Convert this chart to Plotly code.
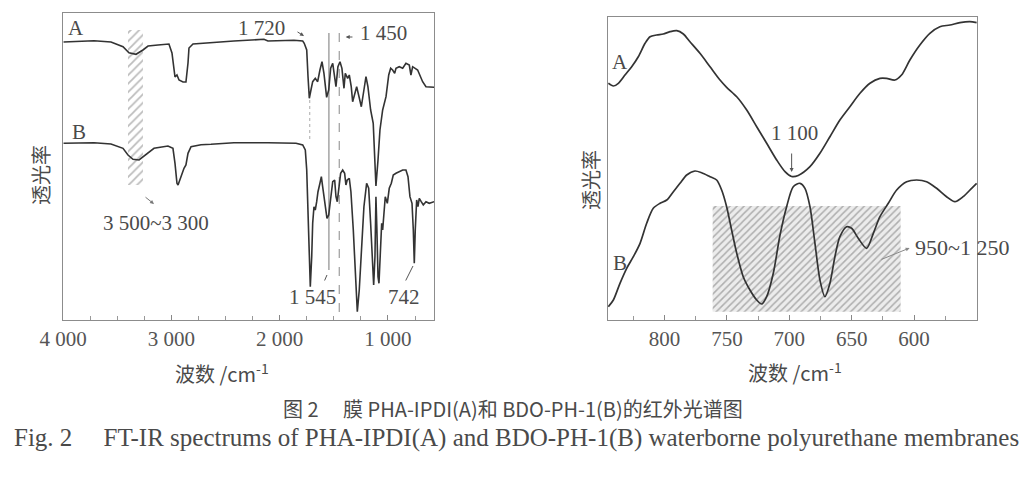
import plotly.graph_objects as go

# ---------------- data (wavenumber cm-1, transmittance a.u.) ----------------
left_A_wn = [3995, 3714, 3557, 3446, 3391, 3326, 3262, 3215, 3123, 3022, 2994, 2975, 2966, 2948,
             2929, 2892, 2865, 2846, 2837, 2800, 2634, 2422, 2145, 2108, 1868, 1787, 1773, 1750,
             1738, 1726, 1711, 1695, 1671, 1649, 1628, 1609, 1591, 1566, 1547, 1529, 1510, 1492,
             1480, 1462, 1443, 1425, 1406, 1394, 1372, 1357, 1339, 1326, 1307, 1289, 1271, 1246,
             1222, 1203, 1185, 1160, 1136, 1124, 1111, 1092, 1074, 1049, 1018, 993, 975, 957, 938,
             926, 896, 864, 834, 803, 788, 772, 726, 680, 649, 573]
left_A_t = [278, 279.3, 278, 273.3, 267.3, 265.7, 270, 274, 275, 276, 267, 250, 243, 245,
            240, 238, 238, 257, 272, 276, 277, 279, 280.7, 279, 279.7, 279, 276.7, 270,
            243.3, 221.7, 230, 238.3, 241.7, 238.3, 250, 258.3, 246.7, 222.7, 230, 251.7, 256.7, 243.3,
            233.3, 253.3, 258.3, 251.7, 231.7, 246.7, 241.7, 245, 233.3, 218.3, 226.7, 233.3, 225, 213.3,
            230, 243.3, 233.3, 210, 196.7, 170, 134, 160, 190, 210, 223.3, 245, 251.7, 250, 246.7,
            251.7, 253.3, 251.7, 256.7, 255, 245, 253.3, 250, 238.3, 233.3, 232.7]

left_B_wn = [3995, 3714, 3557, 3446, 3400, 3354, 3298, 3234, 3160, 3031, 2985, 2966, 2948, 2938,
             2911, 2883, 2865, 2846, 2818, 2726, 2634, 2422, 2108, 1868, 1849, 1787, 1763, 1750,
             1738, 1726, 1717, 1704, 1695, 1683, 1671, 1658, 1646, 1628, 1615, 1603, 1591, 1579,
             1563, 1547, 1529, 1510, 1492, 1480, 1468, 1455, 1437, 1418, 1400, 1388, 1376, 1357,
             1342, 1320, 1302, 1283, 1265, 1246, 1222, 1197, 1178, 1160, 1141, 1132, 1120, 1111,
             1102, 1092, 1083, 1071, 1058, 1049, 1040, 1025, 1006, 988, 969, 951, 926, 896, 864,
             834, 815, 797, 778, 766, 757, 748, 735, 723, 711, 693, 674, 649, 619, 573]
left_B_t = [176.7, 177.3, 176, 171.7, 165, 160.7, 160, 165, 171.7, 174, 171.7, 156.7, 136.7, 135,
            143.3, 151.7, 155, 166.7, 173.3, 175.3, 175.7, 177.3, 177.3, 177.3, 176.7, 175, 170, 150,
            107, 57, 33.3, 63.3, 96.7, 113.3, 110, 118.3, 128.3, 136.7, 143.3, 133.3, 123.3, 110,
            101.7, 105, 123.3, 138.3, 140, 123.3, 118.3, 133.3, 146.7, 150, 146.7, 135, 140, 141.7,
            128.3, 90, 46.7, 8.3, 30, 73.3, 113.3, 136.7, 131.7, 96.7, 50, 35, 63.3, 123.3,
            90, 43.3, 36.7, 70, 96.7, 90, 106.7, 123.3, 116.7, 131.7, 136.7, 145, 146.7, 148.3, 150,
            150, 143.3, 123.3, 116.7, 90, 56.7, 90, 120, 113.3, 121.7, 118.3, 115, 118.3, 116.7, 118.3]

right_A_wn = [845.0, 841.0, 837.0, 831.7, 826.3, 821.0, 815.6, 811.6, 806.3, 801.0, 795.6, 790.2,
              784.9, 779.6, 771.6, 763.5, 755.5, 750.2, 742.1, 734.1, 726.1, 718.1, 710.1, 703.4,
              698.1, 692.8, 683.4, 675.4, 667.4, 659.4, 651.4, 643.3, 635.3, 627.3, 622.0, 615.3,
              610.0, 603.3, 595.3, 587.3, 579.3, 571.2, 563.2, 555.2, 549.8]
right_A_t = [236.7, 234, 236.7, 245, 253.3, 263.3, 276.7, 283.3, 285, 286, 288.3, 289.3,
             286, 278.3, 266.7, 253.3, 240, 232.7, 223.3, 210, 193.3, 176.7, 160, 148.3,
             143.5, 144.5, 153.3, 166.7, 183.3, 200, 213.3, 226.7, 236.7, 241.7, 241.7, 240,
             245, 260, 275, 286.7, 293.3, 295, 297.3, 298.3, 297.3]

right_B_wn = [845.0, 841.0, 835.7, 830.3, 825.0, 819.6, 814.3, 809.0, 803.6, 798.2, 792.9, 787.6,
              782.2, 775.6, 770.2, 763.5, 758.2, 754.2, 750.2, 746.2, 742.1, 736.9, 731.5, 726.1,
              722.1, 718.1, 712.8, 707.4, 702.1, 696.8, 691.4, 687.4, 683.4, 679.4, 675.4, 671.4,
              667.4, 663.4, 659.4, 654.0, 650.0, 644.7, 638.0, 632.6, 627.3, 620.6, 613.9, 605.9,
              597.9, 589.9, 581.9, 573.9, 567.2, 560.6, 553.8, 549.8]
right_B_t = [13.3, 20, 36.7, 51.7, 63.3, 76.7, 96.7, 111.7, 116.7, 120, 128.3, 136.7,
             145, 149, 147.3, 143.3, 140, 130, 113.3, 90, 66.7, 43.3, 30, 20,
             16, 23.3, 46.7, 85, 113.3, 133.3, 136.7, 131.7, 113.3, 76.7, 40, 23.3,
             36.7, 63.3, 83.3, 93.3, 91.7, 81.7, 71.7, 86.7, 103.3, 116.7, 130, 138.3,
             140, 138.3, 131.7, 123.3, 118.3, 123.3, 131.7, 136.7]

left_tickvals = [4000, 3000, 2000, 1000]
left_ticktext = ["4 000", "3 000", "2 000", "1 000"]
right_tickvals = [800, 750, 700, 650, 600]
right_ticktext = ["800", "750", "700", "650", "600"]

left_hatch_wn = [3400, 3262]
left_hatch_t = [135, 290]
right_hatch_wn = [761.4, 610.7]
right_hatch_t = [8.3, 114]

# ---------------- style ----------------
CURVE = "#333333"
TXT = "#4a4a4a"
SERIF = "Liberation Serif, Times New Roman, Noto Sans CJK SC, serif"
CJK = "Noto Sans CJK SC, Liberation Serif, serif"

fig = go.Figure()


def hatch(xs, ys, xa, ya, fg, bg, size, sol):
    fig.add_trace(go.Scatter(
        x=[xs[0], xs[1], xs[1], xs[0], xs[0]],
        y=[ys[0], ys[0], ys[1], ys[1], ys[0]],
        mode="lines", fill="toself", line=dict(width=0, color="rgba(0,0,0,0)"),
        fillcolor=bg,
        fillpattern=dict(shape="/", fgcolor=fg, bgcolor=bg, size=size, solidity=sol),
        xaxis=xa, yaxis=ya, hoverinfo="skip", showlegend=False))


hatch(left_hatch_wn, left_hatch_t, "x", "y", "#7a7a7a", "white", 6, 0.3)
hatch(right_hatch_wn, right_hatch_t, "x2", "y2", "#6f6f6f", "#ececec", 5, 0.3)

# vertical marker lines (left panel)
fig.add_trace(go.Scatter(x=[1545, 1545], y=[287, 50], mode="lines",
                         line=dict(color="#777", width=1), xaxis="x", yaxis="y",
                         showlegend=False, hoverinfo="skip"))
fig.add_trace(go.Scatter(x=[1450, 1450], y=[287, 0], mode="lines",
                         line=dict(color="#888", width=1, dash="dash"), xaxis="x", yaxis="y",
                         showlegend=False, hoverinfo="skip"))
fig.add_trace(go.Scatter(x=[1722, 1722], y=[220, 178], mode="lines",
                         line=dict(color="#aaa", width=1, dash="dot"), xaxis="x", yaxis="y",
                         showlegend=False, hoverinfo="skip"))

for xs, ys in [(left_A_wn, left_A_t), (left_B_wn, left_B_t)]:
    fig.add_trace(go.Scatter(x=xs, y=ys, mode="lines", line=dict(color=CURVE, width=1.6),
                             xaxis="x", yaxis="y", showlegend=False))
for xs, ys in [(right_A_wn, right_A_t), (right_B_wn, right_B_t)]:
    fig.add_trace(go.Scatter(x=xs, y=ys, mode="lines",
                             line=dict(color=CURVE, width=1.7, shape="spline", smoothing=0.8),
                             xaxis="x2", yaxis="y2", showlegend=False))

W, H = 1027, 486
ax_common = dict(showline=True, linecolor="#8c8c8c", linewidth=1, mirror=True,
                 showgrid=False, zeroline=False, ticks="inside", ticklen=5, automargin=False,
                 tickcolor="#888", tickfont=dict(family=SERIF, size=21, color="#555"))
yax_common = dict(showticklabels=False, showline=True, linecolor="#8c8c8c", mirror=True,
                  showgrid=False, zeroline=False, ticks="", automargin=False)

fig.update_layout(
    width=W, height=H, paper_bgcolor="white", plot_bgcolor="white",
    margin=dict(l=0, r=0, t=0, b=0, pad=0, autoexpand=False),
    xaxis=dict(domain=[63 / W, 434 / W], range=[4000, 575], anchor="y",
               tickvals=left_tickvals, ticktext=left_ticktext,
               minor=dict(ticks="inside", dtick=250, tick0=0, ticklen=4, tickcolor="#999"),
               **ax_common),
    yaxis=dict(domain=[1 - 320 / H, 1 - 13 / H], range=[0, 307], anchor="x", **yax_common),
    xaxis2=dict(domain=[608 / W, 977 / W], range=[845.3, 549.5], anchor="y2",
                tickvals=right_tickvals, ticktext=right_ticktext,
                minor=dict(ticks="inside", dtick=25, tick0=0, ticklen=4, tickcolor="#999"),
                **ax_common),
    yaxis2=dict(domain=[1 - 320 / H, 1 - 17 / H], range=[0, 303], anchor="x2", **yax_common),
)

ann = []


def txt(x, y, s, xref="x", yref="y", size=21, family=SERIF, xanchor="center", **kw):
    ann.append(dict(x=x, y=y, xref=xref, yref=yref, text=s, showarrow=False,
                    xanchor=xanchor, yanchor="middle",
                    font=dict(family=family, size=size, color=TXT), **kw))


def arrow(x0, y0, x1, y1, xref="x", yref="y", head=2, color="#555"):
    ann.append(dict(x=x1, y=y1, ax=x0, ay=y0, xref=xref, yref=yref, axref=xref, ayref=yref,
                    text="", showarrow=True, arrowhead=head, arrowsize=0.8, arrowwidth=1,
                    arrowcolor=color))


# left panel labels
txt(3880, 292, "A")
txt(3852, 188, "B")
txt(2163, 292, "1 720")
arrow(1849, 289, 1775, 284)
txt(1037, 287, "1 450")
arrow(1314, 283, 1390, 283)
txt(1701, 23, "1 545")
arrow(1591, 38, 1563, 45, head=0)
txt(852, 23, "742")
arrow(843, 38, 769, 54, head=0)
txt(3142, 97, "3 500~3 300")
arrow(3252, 124, 3160, 116, color="#777")

# right panel labels
txt(835.7, 258.3, "A", xref="x2", yref="y2")
txt(835.7, 57, "B", xref="x2", yref="y2")
txt(695.4, 187, "1 100", xref="x2", yref="y2")
arrow(698.1, 168, 698.1, 148, xref="x2", yref="y2")
txt(601, 73, "950~1 250", xref="x2", yref="y2", xanchor="left", size=22)
arrow(627.3, 60, 603.5, 72, xref="x2", yref="y2", color="#888")

# axis titles
txt(222 / W, 1 - 373 / H, "波数 /cm<sup>-1</sup>", xref="paper", yref="paper", family=CJK, size=20)
txt(795 / W, 1 - 372 / H, "波数 /cm<sup>-1</sup>", xref="paper", yref="paper", family=CJK, size=20)
txt(40 / W, 1 - 175 / H, "透光率", xref="paper", yref="paper", family=CJK, size=20, textangle=-90)
txt(590 / W, 1 - 180 / H, "透光率", xref="paper", yref="paper", family=CJK, size=20, textangle=-90)

# caption
txt(513 / W, 1 - 408 / H, "图 2　 膜 PHA-IPDI(A)和 BDO-PH-1(B)的红外光谱图",
    xref="paper", yref="paper", family=CJK, size=20)
txt(516 / W, 1 - 438 / H,
    "Fig. 2　 FT-IR spectrums of PHA-IPDI(A) and BDO-PH-1(B) waterborne polyurethane membranes",
    xref="paper", yref="paper", family=SERIF, size=25)

fig.update_layout(annotations=ann)
fig.write_html("out.html", config={"displayModeBar": False},
               post_script="document.body.style.margin='0';document.body.style.padding='0';")
